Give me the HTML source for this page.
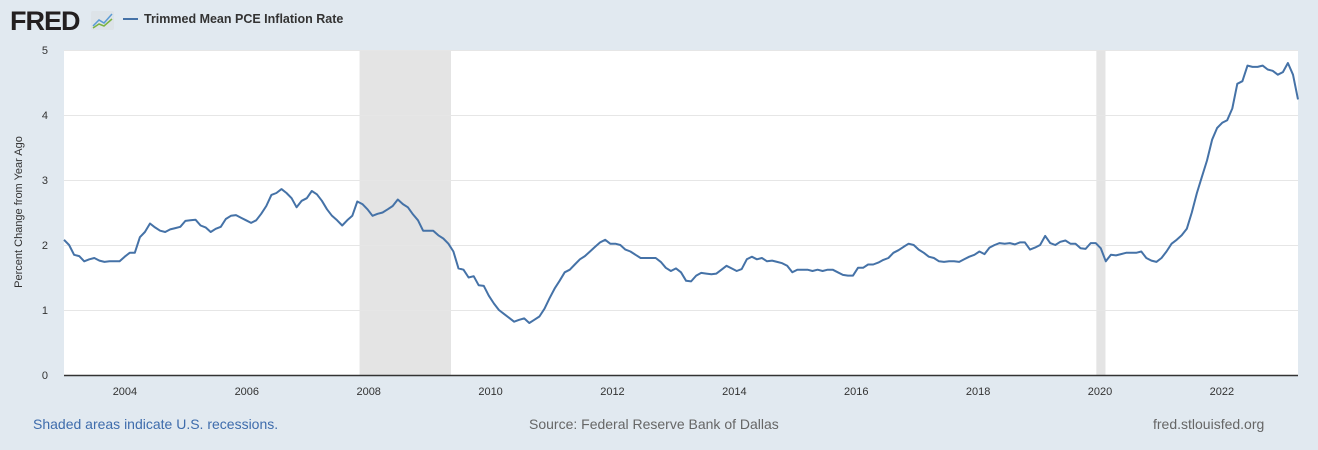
<!DOCTYPE html>
<html><head><meta charset="utf-8"><style>
body{margin:0;width:1318px;height:450px;background:#e1e9f0;font-family:"Liberation Sans",sans-serif;overflow:hidden}
svg{position:absolute;left:0;top:0}
</style></head><body>
<svg width="1318" height="450">
<text x="10" y="30" font-size="27" font-weight="bold" fill="#231f20" letter-spacing="-1">FRED</text>
<g><rect x="91" y="11" width="23" height="19" rx="2" fill="#dde3e8"/><polyline points="93,26 99,20 104,23 112,14" fill="none" stroke="#5b9bd5" stroke-width="1.5"/><polyline points="93,28 99,24 104,26 112,19" fill="none" stroke="#7cb342" stroke-width="1.5"/></g>
<line x1="123" y1="19" x2="138" y2="19" stroke="#4572a7" stroke-width="2"/>
<text x="144" y="23" font-size="12.5" font-weight="bold" fill="#333">Trimmed Mean PCE Inflation Rate</text>
<rect x="64" y="50" width="1234" height="325" fill="#fff"/>
<g id="rec"></g><g id="grid"></g><g id="ylab"></g><g id="xlab"></g>
<line x1="64" y1="375.5" x2="1298" y2="375.5" stroke="#333" stroke-width="1.5"/>
<path id="line" fill="none" stroke="#4572a7" stroke-width="2" stroke-linejoin="round"/>
<text transform="translate(22,212) rotate(-90)" text-anchor="middle" font-size="11" fill="#333">Percent Change from Year Ago</text>
<text x="33" y="429" font-size="14" fill="#3e6cac">Shaded areas indicate U.S. recessions.</text>
<text x="529" y="429" font-size="14" fill="#666">Source: Federal Reserve Bank of Dallas</text>
<text x="1153" y="429" font-size="14" fill="#666">fred.stlouisfed.org</text>
</svg>
<script>
const startDate=2003.0;
const endDate=2023.25;
const values=[
2.08,2.0,1.85,1.83,1.75,1.78,1.8,1.76,1.74,1.75,
1.75,1.75,1.82,1.88,1.88,2.12,2.2,2.33,2.27,2.22,2.2,2.24,
2.26,2.28,2.37,2.38,2.39,2.3,2.27,2.2,2.25,2.28,2.4,2.45,
2.46,2.42,2.38,2.34,2.38,2.48,2.6,2.77,2.8,2.86,2.8,
2.72,2.58,2.68,2.72,2.83,2.78,2.68,2.55,2.45,2.38,2.3,
2.38,2.45,2.67,2.63,2.55,2.45,2.48,2.5,2.55,2.6,2.7,2.63,
2.58,2.47,2.38,2.22,2.22,2.22,2.15,2.1,2.02,1.9,1.64,1.62,
1.5,1.52,1.38,1.37,1.22,1.1,1.0,0.94,0.88,0.82,0.85,
0.87,0.8,0.85,0.9,1.02,1.18,1.33,1.45,1.58,1.62,1.7,1.78,
1.83,1.9,1.97,2.04,2.08,2.02,2.02,2.0,1.93,1.9,1.85,1.8,1.8,
1.8,1.8,1.74,1.65,1.6,1.64,1.58,1.45,1.44,1.53,1.57,1.56,
1.55,1.56,1.62,1.68,1.64,1.6,1.63,1.78,1.82,1.78,1.8,1.75,
1.76,1.74,1.72,1.68,1.58,1.62,1.62,1.62,1.6,1.62,1.6,1.62,
1.62,1.58,1.54,1.53,1.53,1.65,1.65,1.7,1.7,1.73,1.77,
1.8,1.88,1.92,1.97,2.02,2.0,1.93,1.88,1.82,1.8,1.75,1.74,
1.75,1.75,1.74,1.78,1.82,1.85,1.9,1.86,1.96,2.0,2.03,
2.02,2.03,2.01,2.04,2.04,1.93,1.96,2.0,2.14,
2.03,2.0,2.05,2.07,2.02,2.02,1.95,1.94,2.03,2.03,1.95,1.75,
1.85,1.84,1.86,1.88,1.88,1.88,1.9,1.8,1.76,
1.74,1.8,1.9,2.02,2.08,2.15,2.25,2.5,2.8,3.05,3.3,3.62,
3.8,3.88,3.92,4.1,4.48,4.52,4.76,4.74,4.74,4.76,4.7,4.68,4.62,
4.66,4.8,4.62,4.24];
const recessions=[[2007.85,2009.35],[2019.94,2020.09]];
const yTicks=[0,1,2,3,4,5];
const xTicks=[2004,2006,2008,2010,2012,2014,2016,2018,2020,2022];
const X=t=>64+(t-2003)*60.94, Y=v=>375-v*65;
const NS="http://www.w3.org/2000/svg";
function mk(tag,parent,attrs){const e=document.createElementNS(NS,tag);for(const k in attrs)e.setAttribute(k,attrs[k]);document.getElementById(parent).appendChild(e);return e;}
recessions.forEach(r=>{const e=mk('rect','rec',{x:X(r[0]),y:50,width:X(r[1])-X(r[0]),height:325,fill:'#e4e4e4'});

});
yTicks.forEach(v=>{if(v>0){const g=mk('line','grid',{x1:64,x2:1298,y1:Y(v)+.5,y2:Y(v)+.5,stroke:'#e6e6e6'});

}
const t=mk('text','ylab',{x:48,y:Y(v)+4,'text-anchor':'end','font-size':11,fill:'#333'});t.textContent=v;

});
xTicks.forEach(y=>{const t=mk('text','xlab',{x:X(y),y:395,'text-anchor':'middle','font-size':11,fill:'#333'});t.textContent=y;

});
const n=values.length;
let d='';values.forEach((v,i)=>{const t=startDate+(endDate-startDate)*i/(n-1);const x=Math.min(X(t),1298);d+=(i?'L':'M')+x.toFixed(1)+','+Y(v).toFixed(1);});
document.getElementById('line').setAttribute('d',d);
</script>
</body></html>
